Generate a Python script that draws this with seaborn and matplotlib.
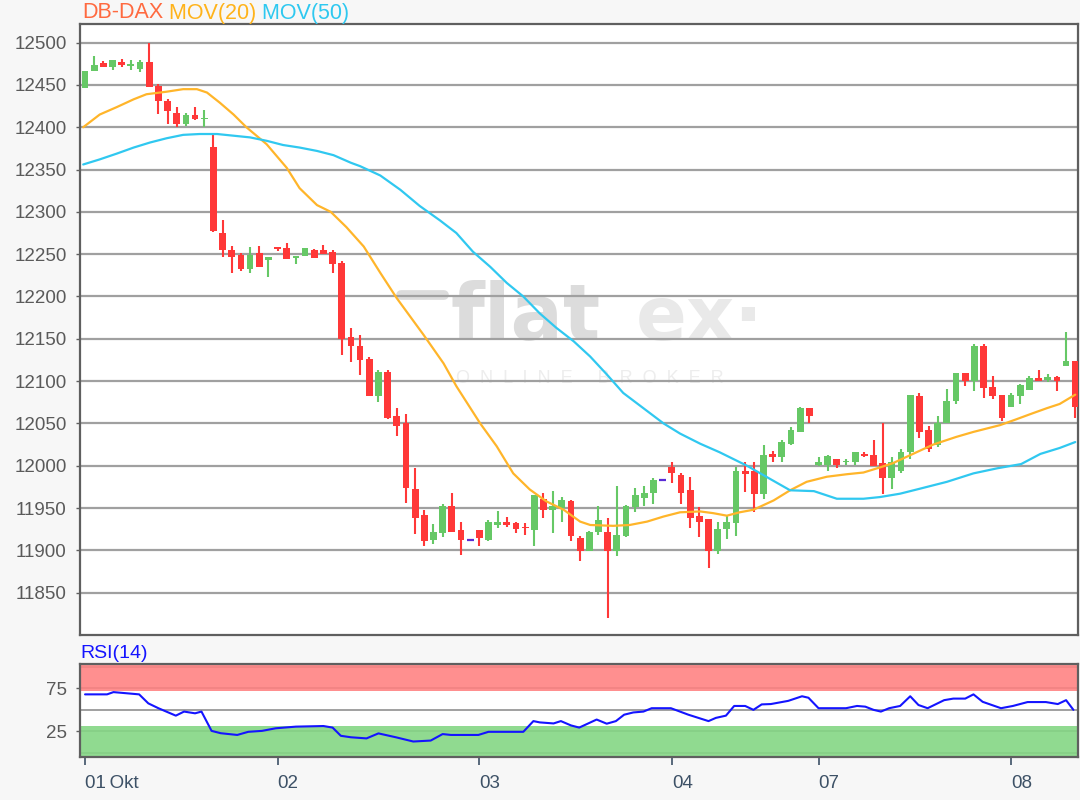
import numpy as np
import matplotlib
matplotlib.use("Agg")
import matplotlib.pyplot as plt
import seaborn as sns

sns.set_theme(style="white")
plt.rcParams["font.family"] = ["Liberation Sans", "DejaVu Sans"]

# ---------------- data ----------------
opens = [12446, 12466, 12476, 12471, 12477, 12472, 12469, 12477, 12449, 12431,
         12417, 12404, 12415, 12410, 12377, 12275, 12255, 12249, 12233, 12251,
         12243, 12258, 12257, 12245, 12248, 12255, 12255, 12252, 12239, 12152,
         12142, 12126, 12082, 12111, 12059, 12050, 11972, 11942, 11912, 11921,
         11953, 11924, 11912, 11924, 11912, 11930, 11934, 11932, 11928, 11924,
         11961, 11948, 11950, 11958, 11915, 11899, 11922, 11922, 11899, 11917,
         11951, 11962, 11968, 11983, 11999, 11989, 11971, 11941, 11937, 11899,
         11925, 11932, 11994, 11994, 11967, 12014, 12010, 12026, 12040, 12068,
         12001, 12001, 12008, 12004, 12004, 12014, 12013, 12003, 11985, 11994,
         12016, 12082, 12042, 12024, 12051, 12076, 12110, 12100, 12142, 12093,
         12084, 12070, 12083, 12090, 12104, 12101, 12105, 12118, 12124]
highs = [12467, 12484, 12478, 12480, 12481, 12480, 12479, 12499, 12451, 12433,
         12424, 12417, 12424, 12420, 12392, 12290, 12260, 12251, 12258, 12260,
         12247, 12259, 12263, 12248, 12257, 12256, 12261, 12255, 12242, 12163,
         12154, 12129, 12113, 12113, 12068, 12061, 11997, 11948, 11931, 11955,
         11968, 11934, 11912, 11924, 11936, 11946, 11940, 11934, 11932, 11966,
         11968, 11970, 11963, 11960, 11917, 11923, 11953, 11938, 11976, 11954,
         11974, 11976, 11985, 11983, 12005, 11991, 11987, 11951, 11937, 11934,
         11941, 11998, 12004, 12004, 12024, 12018, 12030, 12046, 12070, 12068,
         12010, 12013, 12008, 12008, 12016, 12016, 12030, 12050, 12010, 12020,
         12084, 12086, 12047, 12059, 12091, 12110, 12110, 12144, 12144, 12106,
         12084, 12086, 12097, 12106, 12113, 12108, 12106, 12158, 12124]
lows = [12446, 12466, 12471, 12468, 12471, 12468, 12465, 12447, 12416, 12404,
        12400, 12402, 12409, 12400, 12276, 12247, 12228, 12230, 12228, 12235,
        12223, 12254, 12244, 12238, 12248, 12245, 12250, 12228, 12131, 12123,
        12107, 12082, 12075, 12055, 12035, 11956, 11919, 11905, 11907, 11916,
        11922, 11895, 11912, 11905, 11911, 11926, 11928, 11920, 11918, 11905,
        11938, 11920, 11934, 11911, 11887, 11899, 11918, 11820, 11893, 11916,
        11945, 11952, 11955, 11983, 11980, 11955, 11926, 11916, 11879, 11896,
        11914, 11917, 11969, 11945, 11961, 12005, 12004, 12024, 12040, 12051,
        12000, 11994, 11997, 12001, 12001, 12010, 12000, 11967, 11972, 11992,
        12008, 12033, 12016, 12022, 12050, 12073, 12094, 12088, 12080, 12079,
        12053, 12070, 12073, 12090, 12100, 12099, 12088, 12118, 12056]
closes = [12466, 12474, 12471, 12479, 12473, 12475, 12477, 12447, 12431, 12419,
          12404, 12415, 12410, 12411, 12277, 12255, 12247, 12233, 12249, 12235,
          12247, 12256, 12244, 12248, 12257, 12246, 12250, 12238, 12150, 12141,
          12125, 12082, 12111, 12057, 12047, 11974, 11938, 11911, 11922, 11953,
          11922, 11912, 11912, 11915, 11934, 11934, 11930, 11925, 11926, 11965,
          11948, 11953, 11960, 11917, 11899, 11922, 11936, 11899, 11918, 11952,
          11965, 11968, 11983, 11983, 11991, 11968, 11938, 11933, 11899, 11925,
          11933, 11994, 11990, 11967, 12013, 12010, 12028, 12042, 12068, 12059,
          12004, 12011, 12001, 12006, 12016, 12011, 12000, 11985, 12004, 12016,
          12084, 12040, 12020, 12051, 12077, 12110, 12100, 12142, 12092, 12082,
          12056, 12084, 12095, 12104, 12100, 12105, 12100, 12124, 12070]

ma20_idx = [-0.2, 1.6, 3.5, 5.3, 6.7, 8.9, 10.7, 12.2, 13.3, 14.7, 16.2, 17.6,
            19.8, 22, 23.4, 25.3, 26.8, 28.5, 30.4, 32.2, 34, 36.9, 39.1, 40.5,
            43.1, 44.9, 46.7, 48.5, 50.3, 52.2, 54, 55.1, 57.6, 59.4, 61.3, 63.1,
            64.9, 67.1, 68.5, 70, 71.4, 72.9, 75.1, 76.9, 78.7, 80.9, 83.1, 84.9,
            86.7, 88.1, 90.3, 92.5, 95, 96.9, 99.8, 101.6, 103.1, 104.9, 106.3, 108]
ma20_val = [12400, 12415, 12424, 12433, 12439, 12442, 12445, 12445, 12441, 12429,
            12415, 12400, 12380, 12352, 12328, 12308, 12300, 12282, 12259, 12228,
            12198, 12155, 12121, 12094, 12050, 12023, 11991, 11972, 11958, 11948,
            11934, 11930, 11929, 11930, 11934, 11940, 11945, 11946, 11944, 11941,
            11945, 11948, 11959, 11971, 11981, 11987, 11990, 11992, 11998, 12003,
            12014, 12025, 12034, 12040, 12048, 12055, 12061, 12068, 12073, 12084]

ma50_idx = [-0.2, 1.6, 3.5, 5.3, 7.1, 8.9, 10.7, 12.5, 14.4, 16.2, 18, 19.8,
            21.6, 23.4, 25.3, 27.1, 29, 30, 32.2, 34.4, 36.5, 38.7, 40.5, 42.3,
            44.2, 46, 47.8, 49.6, 51.4, 53.3, 55.1, 56.9, 58.7, 60.9, 63.1, 64.9,
            67.1, 69.2, 72.2, 74.3, 76.9, 79.5, 82, 84.9, 86.7, 88.9, 91.1, 94,
            96.9, 99.5, 102.1, 104.2, 106.3, 108]
ma50_val = [12356, 12362, 12369, 12376, 12382, 12387, 12391, 12392, 12392, 12390,
            12388, 12384, 12379, 12376, 12372, 12367, 12358, 12354, 12343, 12326,
            12307, 12290, 12275, 12253, 12235, 12216, 12200, 12180, 12163, 12147,
            12129, 12108, 12086, 12068, 12050, 12038, 12026, 12016, 12000, 11987,
            11971, 11970, 11961, 11961, 11963, 11967, 11973, 11981, 11991, 11997,
            12002, 12014, 12021, 12028]

rsi_idx = [0, 2.4, 3.1, 5.9, 6.9, 8, 9.9, 10.8, 12, 12.7, 13.8, 14.8, 16.6, 17.8,
           19.3, 20.8, 23, 26, 27, 27.9, 29, 30.7, 32, 33.9, 35.8, 37.7, 39, 39.9,
           42.9, 44, 47.8, 48.9, 49.6, 51.1, 51.9, 53, 53.9, 55.8, 56.9, 57.9, 58.8,
           59.8, 60.9, 61.8, 63.9, 65.8, 68, 68.8, 69.9, 70.8, 72, 72.9, 73.8, 74.8,
           76.7, 78.2, 78.9, 80, 83, 84.2, 85.1, 86, 86.8, 87.7, 88.9, 90, 90.9,
           91.9, 93.7, 94.7, 96, 96.9, 97.9, 99.9, 101.2, 102.8, 104.8, 106.1, 107, 107.8]
rsi_val = [67.9, 67.9, 70.5, 67.9, 57.5, 51.9, 43.3, 48, 46, 48, 25.7, 23, 21, 24.6,
           25.7, 28.7, 30.6, 31.3, 29.5, 20, 18.3, 17, 22.8, 18.3, 13.4, 14.5, 22, 21,
           21, 24.6, 24.6, 37, 35.5, 34.3, 37, 32, 29.5, 38.8, 34, 37, 44.4,
           47, 48, 51.9, 51.9, 44.4, 37, 40.7, 43.3, 54.5, 54.5, 50, 56.3, 56.7,
           60.4, 65.7, 64, 51.9, 51.9, 54.5, 53.7, 50, 48, 51.9, 54.5, 65.7, 55.6,
           51.9, 61.2, 63, 63, 67.9, 59.3, 51.9, 54.5, 59, 59, 56.7, 61.2, 50]

price_ticks = list(range(11850, 12501, 50))
rsi_ticks = [25, 75]
day_tick_idx = [0, 21, 43, 64, 80, 101]
day_labels = ["01\u2009Okt", "02", "03", "04", "07", "08"]

# ---------------- styles ----------------
UP = "#66c866"
DOWN = "#ff3838"
DOJI = "#5a2bd6"
MA20_C = "#ffb52a"
MA50_C = "#30c8f0"
RSI_C = "#1414ff"
FRAME = "#5f5f5f"
GRID = "#a0a0a0"
TXT = "#5a5a5a"

W, H = 1080, 800
fig = plt.figure(figsize=(W / 100, H / 100), dpi=100, facecolor="#f7f7f7")
L, R = 80, 1078
ax = fig.add_axes([L / W, 1 - 635 / H, (R - L) / W, (635 - 24) / H])
axr = fig.add_axes([L / W, 1 - 757 / H, (R - L) / W, (757 - 664) / H])

o = np.array(opens, float); h = np.array(highs, float)
lo = np.array(lows, float); c = np.array(closes, float)
x = np.arange(len(o))
cols = np.where(c > o, UP, np.where(c < o, DOWN, DOJI))

# watermark (logo)
ax.text(0.522, 0.483, "flat", transform=ax.transAxes, fontsize=56, color="#dcdcdc",
        ha="right", va="baseline", family="DejaVu Sans", fontweight="bold", zorder=0)
ax.text(0.557, 0.483, "ex·", transform=ax.transAxes, fontsize=54, color="#e9e9e9",
        ha="left", va="baseline", family="DejaVu Sans", fontweight="bold", zorder=0)
ax.plot([0.322, 0.365], [0.556, 0.556], transform=ax.transAxes, color="#dcdcdc",
        lw=7, solid_capstyle="round", zorder=0)
ax.text(0.511, 0.412, "O  N  L  I  N  E     B  R  O  K  E  R", transform=ax.transAxes,
        fontsize=13, color="#ededed", ha="center", va="baseline", zorder=0)

# candles
ax.vlines(x, lo, h, colors=cols, lw=1.5, zorder=3)
body_bottom = np.minimum(o, c)
body_h = np.abs(c - o)
mask = body_h > 0
ax.bar(x[mask], body_h[mask], bottom=body_bottom[mask], width=0.74,
       color=cols[mask], edgecolor="none", zorder=4)
ax.hlines(c[~mask], x[~mask] - 0.37, x[~mask] + 0.37, colors=DOJI, lw=1.6, zorder=4)

# moving averages
sns.lineplot(x=ma20_idx, y=ma20_val, ax=ax, color=MA20_C, lw=1.6, zorder=5)
sns.lineplot(x=ma50_idx, y=ma50_val, ax=ax, color=MA50_C, lw=1.6, zorder=5)

ax.set_xlim(-0.55, 108.3)
ax.set_ylim(11800, 12522)
ax.set_yticks(price_ticks)
ax.set_yticklabels([str(t) for t in price_ticks])
ax.set_xticks([])
ax.grid(axis="y", color=GRID, lw=1.6)
ax.set_axisbelow(True)
ax.set_facecolor("white")
ax.tick_params(axis="y", left=True, length=3, width=1, color=FRAME,
               labelsize=13.5, labelcolor=TXT, pad=6.5)
for s in ax.spines.values():
    s.set_color(FRAME); s.set_linewidth(1.6)
ax.set_xlabel(""); ax.set_ylabel("")

# RSI panel
axr.set_facecolor("white")
axr.set_xlim(-0.55, 108.3)
axr.set_ylim(-4.5, 103)
for lvl in [0, 25, 50, 75, 100]:
    axr.axhline(lvl, color=GRID, lw=1.4, zorder=1)
axr.axhspan(72, 103, color="#ff8080", alpha=0.88, lw=0, zorder=2)
axr.axhspan(-4.5, 31.5, color="#84d684", alpha=0.9, lw=0, zorder=2)
sns.lineplot(x=rsi_idx, y=rsi_val, ax=axr, color=RSI_C, lw=1.5, zorder=5)
axr.set_yticks(rsi_ticks)
axr.set_yticklabels([str(t) for t in rsi_ticks])
axr.set_xticks(day_tick_idx)
axr.set_xticklabels(day_labels, ha="left")
axr.tick_params(axis="y", left=True, length=3, width=1, color=FRAME,
                labelsize=13.5, labelcolor=TXT, pad=6.5)
axr.tick_params(axis="x", bottom=True, length=6, width=1.2, color="#3d5166",
                labelsize=13.5, labelcolor="#3d5166", pad=7)
for s in axr.spines.values():
    s.set_color(FRAME); s.set_linewidth(1.6)
axr.set_xlabel(""); axr.set_ylabel("")
axr.grid(False)

# titles
fig.canvas.draw()
rend = fig.canvas.get_renderer()
xpos = 82 / W
for s, col in [("DB-DAX", "#ff6a40"), (" MOV(20)", "#ffb31a"), (" MOV(50)", "#2ec8f0")]:
    t = fig.text(xpos, 1 - 13 / H, s, color=col, fontsize=15.5, ha="left", va="center")
    bb = t.get_window_extent(renderer=rend)
    xpos = bb.x1 / fig.bbox.width
fig.text(80 / W, 1 - 653 / H, "RSI(14)", color="#1414ff", fontsize=14,
         ha="left", va="center")

fig.savefig("out.png", dpi=100, facecolor=fig.get_facecolor())
